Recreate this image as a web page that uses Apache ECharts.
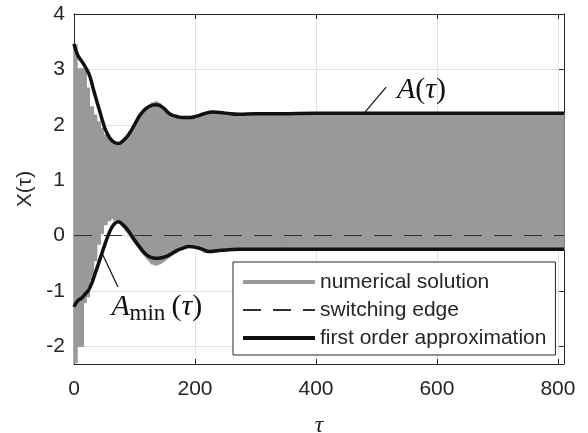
<!DOCTYPE html>
<html><head><meta charset="utf-8">
<script src="https://cdn.jsdelivr.net/npm/echarts@6/dist/echarts.min.js"></script>
<style>html,body{margin:0;padding:0;background:#fff}#c{width:588px;height:433px}</style>
</head><body><div id="c"></div>
<script>
// ---- data ----
const xTicks = [0, 200, 400, 600, 800];
const yTicks = [-2, -1, 0, 1, 2, 3, 4];

// numerical solution: band between its upper and lower envelope
const bandTau  = [0, 4.4, 4.6, 6.4, 6.6, 8.6, 8.8, 11, 11.2, 15, 15.2, 19.7, 19.9, 25, 25.2, 31.8, 32, 37, 37.2, 43, 43.2, 48, 48.2, 54, 54.2, 60, 60.2, 66, 66.2, 72, 80, 85, 92, 100, 111, 120, 128, 136, 143, 150, 158, 170, 180, 190, 204, 215, 229, 250, 273, 300, 350, 810];
const bandHigh = [3.44, 3.44, 2.2, 2.2, 3.0, 3.0, 3.0, 3.0, 3.0, 3.0, 3.0, 3.0, 2.66, 2.66, 2.32, 2.32, 2.17, 2.17, 2.05, 2.05, 1.93, 1.93, 1.81, 1.81, 1.74, 1.74, 1.69, 1.69, 1.66, 1.65, 1.67, 1.72, 1.82, 1.97, 2.17, 2.3, 2.38, 2.41, 2.37, 2.3, 2.2, 2.13, 2.11, 2.11, 2.15, 2.2, 2.22, 2.2, 2.18, 2.2, 2.2, 2.2];
const bandLow  = [-2.29, -2.29, -2.0, -2.0, -2.0, -2.0, -1.25, -1.25, -2.0, -2.0, -1.21, -1.21, -1.1, -1.1, -0.8, -0.8, -0.45, -0.45, -0.15, -0.15, 0.04, 0.04, 0.2, 0.2, 0.27, 0.27, 0.31, 0.31, 0.3, 0.28, 0.18, 0.1, 0.0, -0.12, -0.28, -0.4, -0.5, -0.53, -0.5, -0.45, -0.38, -0.3, -0.2, -0.15, -0.2, -0.3, -0.3, -0.27, -0.25, -0.25, -0.25, -0.25];

// first order approximation: upper envelope A(tau)
const upperTau = [0, 6, 12.6, 20, 26, 31.8, 37, 42.7, 48, 53.7, 63, 72.8, 82, 92, 101, 111, 124, 136, 147, 158, 170, 180, 191, 204, 215, 229, 250, 273, 300, 339, 400, 810];
const upperA   = [3.46, 3.26, 3.15, 3.02, 2.88, 2.65, 2.45, 2.24, 2.04, 1.87, 1.71, 1.66, 1.72, 1.85, 2.02, 2.2, 2.33, 2.36, 2.31, 2.2, 2.15, 2.13, 2.13, 2.16, 2.2, 2.23, 2.21, 2.19, 2.2, 2.2, 2.21, 2.21];

// first order approximation: lower envelope A_min(tau)
const lowerTau = [0, 6, 12.6, 19, 26, 37, 48, 59, 66, 73, 80, 89, 98, 108, 120, 133, 145, 158, 170, 180, 190, 204, 215, 224, 240, 273, 300, 810];
const lowerA   = [-1.29, -1.18, -1.13, -1.05, -0.95, -0.62, -0.26, 0.07, 0.2, 0.25, 0.2, 0.1, -0.05, -0.2, -0.35, -0.41, -0.4, -0.35, -0.27, -0.23, -0.2, -0.22, -0.26, -0.29, -0.27, -0.25, -0.25, -0.25];

// switching edge
const edgeTau = [0, 810];
const edgeX   = [0, 0];

const xRange = [0, 810];
const yRange = [-2.32, 4];

// annotations (data coordinates)
const annA    = {line: [[481, 2.23], [516, 2.68]], text: [534, 2.62]};
const annAmin = {line: [[46, -0.31], [72.7, -0.93]], text: [62, -1.3]};

// ---- build ----
const pairs = (xs, ys) => xs.map((x, i) => [x, ys[i]]);
// one quad per band segment: [t0, lo0, hi0, t1, lo1, hi1]
const bandSegs = bandTau.slice(0, -1).map((t, i) =>
  [t, bandLow[i], bandHigh[i], bandTau[i + 1], bandLow[i + 1], bandHigh[i + 1]]);

const AX = '#262626';
const GRAY = '#999999';
const sans = 'Liberation Sans, Arial, sans-serif';
const serif = 'Liberation Serif, Times New Roman, serif';

const chart = echarts.init(document.getElementById('c'), null, {renderer: 'canvas'});
const isInt = v => Math.abs(v - Math.round(v)) < 1e-9;

const axisCommon = {
  axisLine: {show: true, onZero: false, lineStyle: {color: AX, width: 1}},
  axisTick: {show: true, inside: true, length: 5, lineStyle: {color: AX}}
};

chart.setOption({
  animation: false,
  backgroundColor: '#fff',
  grid: {left: 74, top: 14, right: 24, bottom: 69, containLabel: false, outerBoundsMode: 'none'},
  xAxis: [Object.assign({
    type: 'value', min: xRange[0], max: xRange[1], interval: 200,
    axisLabel: {color: AX, fontSize: 21, fontFamily: sans, margin: 15,
      formatter: v => (xTicks.indexOf(v) >= 0 ? String(v) : '')},
    splitLine: {show: true, lineStyle: {color: '#e3e3e3', width: 1}},
    name: 'τ', nameLocation: 'middle', nameGap: 50,
    nameTextStyle: {fontFamily: serif, fontStyle: 'italic', fontSize: 24, color: AX}
  }, axisCommon), Object.assign({
    type: 'value', position: 'top', min: xRange[0], max: xRange[1], interval: 200,
    axisLabel: {show: false}, splitLine: {show: false}
  }, axisCommon)],
  yAxis: [Object.assign({
    type: 'value', min: yRange[0], max: yRange[1], splitNumber: 6,
    axisLabel: {color: AX, fontSize: 21, fontFamily: sans, margin: 9,
      formatter: v => (isInt(v) && yTicks.indexOf(Math.round(v)) >= 0 ? String(Math.round(v)) : '')},
    splitLine: {show: true, lineStyle: {color: '#e3e3e3', width: 1}},
    name: 'X(τ)', nameLocation: 'middle', nameGap: 38, nameRotate: 90,
    nameTextStyle: {fontFamily: sans, fontSize: 21, color: AX}
  }, axisCommon), Object.assign({
    type: 'value', position: 'right', min: yRange[0], max: yRange[1], splitNumber: 6,
    axisLabel: {show: false}, splitLine: {show: false}
  }, axisCommon)],
  legend: {
    orient: 'vertical', left: 233, top: 262,
    padding: [8, 9, 5, 8], itemGap: 4, itemWidth: 72, itemHeight: 14,
    backgroundColor: '#fff', borderColor: AX, borderWidth: 1, borderRadius: 0,
    textStyle: {fontFamily: sans, fontSize: 21, color: AX, lineHeight: 24},
    data: [
      {name: 'numerical solution', icon: 'path://M0,0H72V4H0Z', itemStyle: {color: GRAY}},
      {name: 'switching edge', itemStyle: {opacity: 0}},
      {name: 'first order approximation', itemStyle: {opacity: 0}, lineStyle: {width: 4, color: '#111'}}
    ]
  },
  series: [
    {
      name: 'numerical solution', type: 'custom', silent: true, z: 2,
      itemStyle: {color: GRAY},
      encode: {x: [0, 3], y: [1, 2, 4, 5]},
      data: bandSegs,
      renderItem: function (params, api) {
        const p0l = api.coord([api.value(0), api.value(1)]);
        const p0h = api.coord([api.value(0), api.value(2)]);
        const p1l = api.coord([api.value(3), api.value(4)]);
        const p1h = api.coord([api.value(3), api.value(5)]);
        return {
          type: 'polygon',
          shape: {points: [p0l, p1l, p1h, p0h]},
          style: {fill: GRAY, stroke: GRAY, lineWidth: 1.6, lineJoin: 'miter'}
        };
      }
    },
    {
      name: 'switching edge', type: 'line', data: pairs(edgeTau, edgeX), symbol: 'none',
      lineStyle: {width: 1, color: '#333', type: [18, 12]}, itemStyle: {color: '#333'}, z: 3
    },
    {
      name: 'first order approximation', type: 'line', data: pairs(upperTau, upperA),
      symbol: 'none', smooth: 0.5,
      lineStyle: {width: 3.5, color: '#111'}, itemStyle: {color: '#111'}, z: 4
    },
    {
      name: 'first order approximation', type: 'line', data: pairs(lowerTau, lowerA),
      symbol: 'none', smooth: 0.5,
      lineStyle: {width: 3.5, color: '#111'}, itemStyle: {color: '#111'}, z: 4
    }
  ]
});

// annotations placed through the chart's own scales
const px = p => chart.convertToPixel({gridIndex: 0}, p);
const a1 = px(annA.line[0]), a2 = px(annA.line[1]), at = px(annA.text);
const b1 = px(annAmin.line[0]), b2 = px(annAmin.line[1]), bt = px(annAmin.text);
const richTau = {i: {fontFamily: serif, fontStyle: 'italic', fontSize: 30, fill: '#111'},
                 p: {fontFamily: serif, fontSize: 30, fill: '#111'}};
chart.setOption({
  graphic: [
    {type: 'line', shape: {x1: a1[0], y1: a1[1], x2: a2[0], y2: a2[1]}, style: {stroke: '#111', lineWidth: 1.2}, z: 100},
    {type: 'line', shape: {x1: b1[0], y1: b1[1], x2: b2[0], y2: b2[1]}, style: {stroke: '#111', lineWidth: 1.2}, z: 100},
    {type: 'text', x: at[0], y: at[1], z: 100, style: {
      text: '{i|A}{p|(}{i|τ}{p|)}', align: 'left', verticalAlign: 'middle', rich: richTau}},
    {type: 'text', x: bt[0], y: bt[1], z: 100, style: {
      text: 'A', fontFamily: serif, fontStyle: 'italic', fontSize: 30, fill: '#111', align: 'left', verticalAlign: 'middle'}},
    {type: 'text', x: bt[0] + 18, y: bt[1] + 6, z: 100, style: {
      text: 'min', fontFamily: serif, fontSize: 23, fill: '#111', align: 'left', verticalAlign: 'middle'}},
    {type: 'text', x: bt[0] + 60, y: bt[1], z: 100, style: {
      text: '{p|(}{i|τ}{p|)}', align: 'left', verticalAlign: 'middle', rich: richTau}}
  ]
});
</script>
</body></html>
